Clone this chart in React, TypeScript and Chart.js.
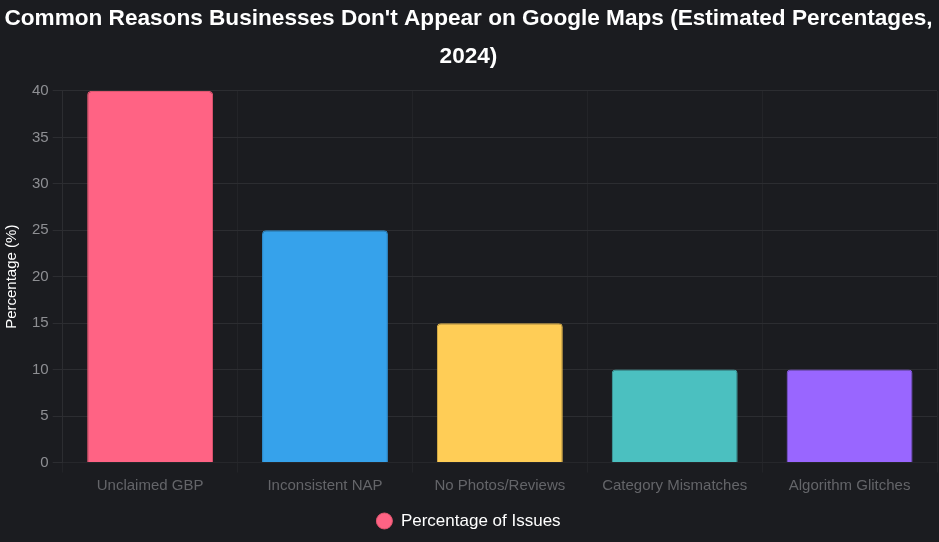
import React, { useEffect, useRef } from "react";
import { Chart, registerables } from "chart.js";

Chart.register(...registerables);

const categories = ["Unclaimed GBP", "Inconsistent NAP", "No Photos/Reviews", "Category Mismatches", "Algorithm Glitches"];
const values = [40, 25, 15, 10, 10];
const barColors = ["#ff6384", "#36a2eb", "#ffcd56", "#4bc0c0", "#9966ff"];
const borderColors = ["#e0566f", "#2f8fd0", "#e0b44a", "#42a8a8", "#8658e0"];
const titleLines = ["Common Reasons Businesses Don't Appear on Google Maps (Estimated Percentages,", "2024)"];
const seriesLabel = "Percentage of Issues";
const yTitle = "Percentage (%)";

const bg = "#1b1c20";
const FONT = "Liberation Sans, Arial, Helvetica, sans-serif";

export default function App() {
  const ref = useRef<HTMLCanvasElement | null>(null);
  useEffect(() => {
    document.body.style.margin = "0";
    document.body.style.background = bg;
    const bgPlugin = {
      id: "bgfill",
      beforeDraw(chart: any) {
        const c = chart.ctx;
        c.save();
        c.fillStyle = bg;
        c.fillRect(0, 0, chart.width, chart.height);
        c.restore();
      },
    };
    const chart = new Chart(ref.current!, {
      type: "bar",
      data: {
        labels: categories,
        datasets: [
          {
            label: seriesLabel,
            data: values,
            backgroundColor: barColors,
            borderColor: borderColors,
            borderWidth: 1,
            borderRadius: 4,
          },
        ],
      },
      plugins: [bgPlugin],
      options: {
        responsive: false,
        animation: false,
        layout: { padding: { left: 0, right: 2, top: 0, bottom: 2.5 } },
        plugins: {
          title: {
            display: true,
            text: titleLines,
            color: "#ffffff",
            font: { family: FONT, size: 22.6, weight: "bold", lineHeight: 1.68 },
            padding: { top: 0, bottom: 15 },
          },
          legend: {
            display: true,
            position: "bottom",
            labels: {
              color: "#ffffff",
              usePointStyle: true,
              pointStyle: "circle",
              boxWidth: 16,
              boxHeight: 11.3,
              padding: 14,
              font: { family: FONT, size: 17 },
            },
          },
          tooltip: { enabled: false },
        },
        scales: {
          x: {
            grid: { color: "#232428", tickLength: 10 },
            border: { color: "#26272b" },
            ticks: { color: "#646569", font: { family: FONT, size: 15 }, padding: 4 },
          },
          y: {
            beginAtZero: true,
            grid: { color: "#2c2d31", tickLength: 10 },
            border: { color: "#2c2d31" },
            ticks: { color: "#8e8f93", stepSize: 5, font: { family: FONT, size: 15 }, padding: 4 },
            title: {
              display: true,
              text: yTitle,
              color: "#ffffff",
              font: { family: FONT, size: 15 },
              padding: { top: 3, bottom: 7 },
            },
          },
        },
      },
    });
    return () => chart.destroy();
  }, []);
  return (
    <div style={{ width: 939, height: 542, background: bg }}>
      <canvas ref={ref} width={939} height={542} style={{ display: "block" }} />
    </div>
  );
}
